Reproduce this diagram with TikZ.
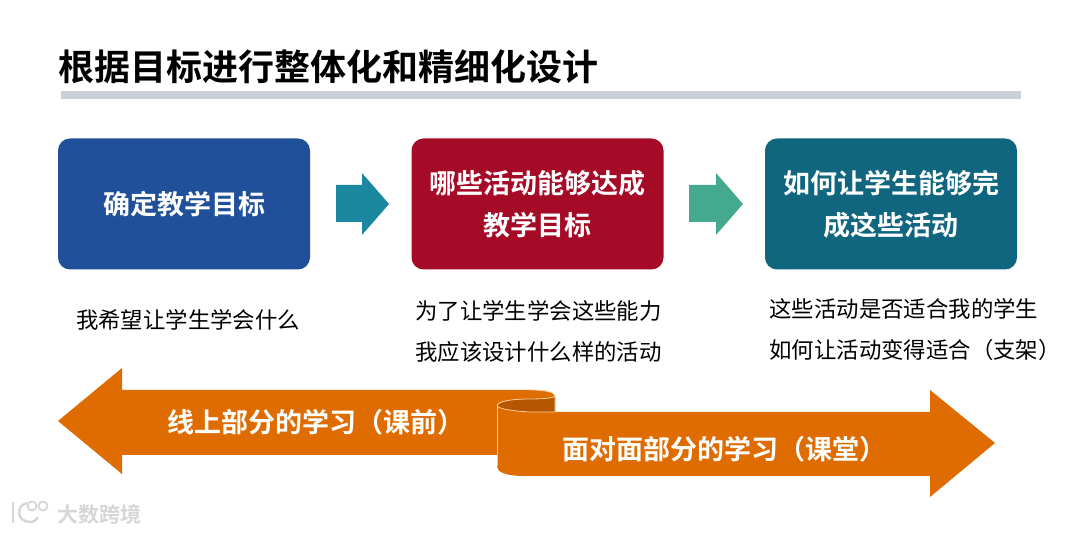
\documentclass[tikz,border=0pt]{standalone}
\usepackage{fontspec}
\setmainfont{Noto Sans CJK SC}
\newfontfamily\cjkb{Noto Sans CJK SC Bold}
\newfontfamily\cjkm{Noto Sans CJK SC Medium}
\definecolor{boxblue}{HTML}{21509B}
\definecolor{boxred}{HTML}{A50A26}
\definecolor{boxteal}{HTML}{10657F}
\definecolor{arrowa}{HTML}{1B88A0}
\definecolor{arrowb}{HTML}{44A98F}
\definecolor{ribbon}{HTML}{DF6C00}
\definecolor{ribbond}{HTML}{B65600}
\definecolor{ribbonl}{HTML}{F8CE9A}
\definecolor{rulec}{HTML}{CBCFD9}
\definecolor{wm}{HTML}{D6D6D6}
\tikzset{
 x=1pt,y=-1pt,
 bluebox/.style={rounded corners=12pt,anchor=center,minimum width=252pt,minimum height=131pt,text=white,align=center,font=\fontsize{27}{42}\cjkb},
 subtext/.style={anchor=center,align=left,font=\fontsize{22.4}{41}\selectfont,text=black},
 ribbontext/.style={anchor=center,text=white,font=\fontsize{27}{30}\cjkb},
 wmtext/.style={anchor=west,text=wm,font=\fontsize{21}{24}\cjkb},
 ribbonedge/.style={draw=ribbonl,line width=0.8pt},
}
\begin{document}
\begin{tikzpicture}
\useasboundingbox[fill=white] (0,0) rectangle (1080,534);
% title
\node[anchor=center,font=\fontsize{36}{40}\cjkb,text=black] (title) at (328.5,67) {根据目标进行整体化和精细化设计};
\fill[rulec] (61,91) rectangle (1021,99);
% boxes
\node[bluebox,fill=boxblue] (b1) at (184,204) {确定教学目标};
\node[bluebox,fill=boxred] (b2) at (537.5,204) {哪些活动能够达成\\教学目标};
\node[bluebox,fill=boxteal] (b3) at (891,204) {如何让学生能够完\\成这些活动};
% block arrows
\fill[arrowa] (336,185) -- (362,185) -- (362,173) -- (389,204) -- (362,235) -- (362,222) -- (336,222) -- cycle;
\fill[arrowb] (689,185) -- (716,185) -- (716,173) -- (743,204) -- (716,235) -- (716,222) -- (689,222) -- cycle;
% sub-texts
\node[subtext] (s1) at (188,320) {我希望让学生学会什么};
\node[subtext] (s2) at (538.5,331) {为了让学生学会这些能力\\我应该设计什么样的活动};
\node[subtext] (s3) at (915,329.5) {这些活动是否适合我的学生\\如何让活动变得适合（支架）};
% ribbon: left arrow
\fill[ribbon] (58,421) -- (122,368) -- (122,390) -- (530,390)
  .. controls (545,390) and (555,392) .. (555,397) -- (555,430) -- (497,455) -- (122,455) -- (122,474) -- cycle;
% ribbon: inner dark fold
\fill[ribbond] (497,408) .. controls (497,401) and (515,399) .. (530,399)
  .. controls (545,399) and (555,397) .. (555,397) -- (555,414) -- (497,414) -- cycle;
% ribbon: right arrow
\fill[ribbon] (497,406) .. controls (500,409) and (512,411) .. (530,412)
  -- (930,412) -- (930,390) -- (995,443) -- (930,497) -- (930,476) -- (525,476)
  .. controls (505,476) and (497,472) .. (497,466) -- cycle;
\draw[ribbonedge] (497,406) .. controls (497,401) and (513,399) .. (530,399) .. controls (543,399) and (555,398) .. (555,396);
\draw[ribbonedge] (497,406) .. controls (500,409) and (512,411) .. (530,412) -- (555,412);
\draw[ribbonedge] (497,406) -- (497,466);
\draw[ribbonedge] (530,390) .. controls (545,390) and (555,392) .. (555,396) -- (555,412);
\node[ribbontext] (r1) at (316,422) {线上部分的学习（课前）};
\node[ribbontext] (r2) at (724,449) {面对面部分的学习（课堂）};
% watermark
\begin{scope}[draw=wm,line width=2.4pt]
 \draw (13,502) -- (13,523);
 \draw (27,503) .. controls (16,505) and (16,522) .. (30,522) .. controls (34,522) and (37,520) .. (38,517);
 \draw[line width=1.8pt] (32,506) circle[radius=4.5pt];
 \draw[line width=1.8pt] (43,506) circle[radius=4.5pt];
\end{scope}
\node[wmtext] (wm1) at (54,514) {大数跨境};
\end{tikzpicture}
\end{document}
